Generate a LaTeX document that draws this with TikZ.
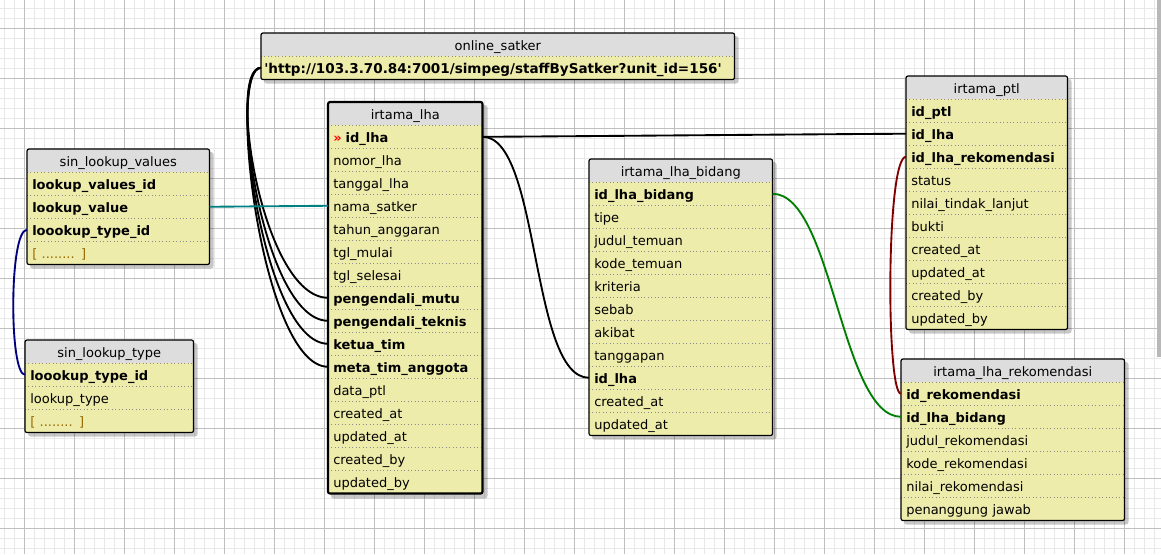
\documentclass[tikz,border=0pt]{standalone}
\usepackage{fontspec}
\setmainfont{DejaVu Sans}
\usepackage{xcolor}
\usepackage{tikz}
\usetikzlibrary{positioning, calc}
\definecolor{erdyellow}{RGB}{238,236,170}
\definecolor{erdhead}{RGB}{221,221,221}
\definecolor{erddots}{RGB}{150,105,0}
\definecolor{linkteal}{RGB}{0,128,128}
\definecolor{linknavy}{RGB}{0,0,128}
\definecolor{linkgreen}{RGB}{0,128,0}
\definecolor{linkred}{RGB}{128,0,0}
\pgfdeclarelayer{grid}
\pgfdeclarelayer{shade}
\pgfsetlayers{grid,shade,main}
\tikzset{
  tabhead/.style={fill=erdhead, anchor=north west, inner sep=0pt, minimum height=17.25pt, text height=9.3pt, text depth=0.6pt, align=center},
  tabrow/.style={fill=erdyellow, anchor=north west, inner xsep=3.75pt, inner ysep=0pt, minimum height=17.25pt, text height=9.3pt, text depth=0.6pt, align=left},
  tabframe/.style={draw=black, line width=0.9pt, rounded corners=1.5pt},
  tabshade/.style={fill=black, opacity=0.22, rounded corners=2pt},
  rowline/.style={draw=black!45, dotted, line width=0.6pt},
  gridminor/.style={draw=black!9, line width=0.6pt},
  gridmajor/.style={draw=black!25, line width=0.75pt},
  link/.style={line width=1.4pt}
}

\begin{document}
\begin{tikzpicture}[x=0.75pt, y=-0.75pt, font=\fontsize{9.75}{11}\selectfont]
        \useasboundingbox (0,0) rectangle (1161,554);

        \begin{pgfonlayer}{grid}
          \fill[white] (0,0) rectangle (1161,554);
          \foreach \gx in {4,14,...,1154} \draw[gridminor] (\gx,0) -- (\gx,554);
          \foreach \gy in {8,18,...,548} \draw[gridminor] (0,\gy) -- (1161,\gy);
          \foreach \gx in {24,74,...,1124} \draw[gridmajor] (\gx,0) -- (\gx,554);
          \foreach \gy in {28,78,...,528} \draw[gridmajor] (0,\gy) -- (1161,\gy);
        \end{pgfonlayer}

        \node[tabhead, text width=136.5pt] (vals) at (27,149) {sin\_lookup\_values};
        \foreach \col [count=\i] in {\textbf{lookup\_values\_id}, \textbf{lookup\_value}, \textbf{loookup\_type\_id}, \textcolor{erddots}{[ ........ ]}}
          {\node[tabrow, text width=129pt] (vals-\i) at (27,{149+23*\i}) {\col};
           \draw[rowline] (vals-\i.north west) -- (vals-\i.north east);}
        \draw[tabframe] (vals.north west) rectangle (vals-4.south east);

        \node[tabhead, text width=126pt] (type) at (25,340) {sin\_lookup\_type};
        \foreach \col [count=\i] in {\textbf{loookup\_type\_id}, lookup\_type, \textcolor{erddots}{[ ........ ]}}
          {\node[tabrow, text width=118.5pt] (type-\i) at (25,{340+23*\i}) {\col};
           \draw[rowline] (type-\i.north west) -- (type-\i.north east);}
        \draw[tabframe] (type.north west) rectangle (type-3.south east);

        \node[tabhead, text width=354.75pt] (sat) at (261,33) {online\_satker};
        \node[tabrow, text width=350.25pt, inner xsep=2.25pt] (sat-1) at (261,56) {\fontsize{10.15}{11}\selectfont\textbf{\textquotesingle http://103.3.70.84:7001/simpeg/staffBySatker?unit\_id=156\textquotesingle}};
        \draw[rowline] (sat-1.north west) -- (sat-1.north east);
        \draw[tabframe] (sat.north west) rectangle (sat-1.south east);

        \node[tabhead, text width=115.5pt] (lha) at (328,102) {irtama\_lha};
        \foreach \col [count=\i] in {{\textcolor{red}{\textbf{»}}\kern3pt\textbf{id\_lha}}, nomor\_lha, tanggal\_lha, nama\_satker, tahun\_anggaran, tgl\_mulai, tgl\_selesai, \textbf{pengendali\_mutu}, \textbf{pengendali\_teknis}, \textbf{ketua\_tim}, \textbf{meta\_tim\_anggota}, data\_ptl, created\_at, updated\_at, created\_by, updated\_by}
          {\node[tabrow, text width=108pt] (lha-\i) at (328,{102+23*\i}) {\col};
           \draw[rowline] (lha-\i.north west) -- (lha-\i.north east);}
        \draw[tabframe, line width=1.6pt] (lha.north west) rectangle (lha-16.south east);

        \node[tabhead, text width=137.25pt] (bid) at (589,159) {irtama\_lha\_bidang};
        \foreach \col [count=\i] in {\textbf{id\_lha\_bidang}, tipe, judul\_temuan, kode\_temuan, kriteria, sebab, akibat, tanggapan, \textbf{id\_lha}, created\_at, updated\_at}
          {\node[tabrow, text width=129.75pt] (bid-\i) at (589,{159+23*\i}) {\col};
           \draw[rowline] (bid-\i.north west) -- (bid-\i.north east);}
        \draw[tabframe] (bid.north west) rectangle (bid-11.south east);

        \node[tabhead, text width=120.75pt] (ptl) at (906,76) {irtama\_ptl};
        \foreach \col [count=\i] in {\textbf{id\_ptl}, \textbf{id\_lha}, \textbf{id\_lha\_rekomendasi}, status, nilai\_tindak\_lanjut, bukti, created\_at, updated\_at, created\_by, updated\_by}
          {\node[tabrow, text width=113.25pt] (ptl-\i) at (906,{76+23*\i}) {\col};
           \draw[rowline] (ptl-\i.north west) -- (ptl-\i.north east);}
        \draw[tabframe] (ptl.north west) rectangle (ptl-10.south east);

        \node[tabhead, text width=167.25pt] (rek) at (901,359) {irtama\_lha\_rekomendasi};
        \foreach \col [count=\i] in {\textbf{id\_rekomendasi}, \textbf{id\_lha\_bidang}, judul\_rekomendasi, kode\_rekomendasi, nilai\_rekomendasi, penanggung jawab}
          {\node[tabrow, text width=159.75pt] (rek-\i) at (901,{359+23*\i}) {\col};
           \draw[rowline] (rek-\i.north west) -- (rek-\i.north east);}
        \draw[tabframe] (rek.north west) rectangle (rek-6.south east);

        \begin{pgfonlayer}{shade}
          \fill[tabshade] ([shift={(3,3)}]vals.north west) rectangle ([shift={(4,4)}]vals-4.south east);
          \fill[tabshade] ([shift={(3,3)}]type.north west) rectangle ([shift={(4,4)}]type-3.south east);
          \fill[tabshade] ([shift={(3,3)}]sat.north west) rectangle ([shift={(4,4)}]sat-1.south east);
          \fill[tabshade] ([shift={(3,3)}]lha.north west) rectangle ([shift={(5,5)}]lha-16.south east);
          \fill[tabshade] ([shift={(3,3)}]bid.north west) rectangle ([shift={(4,4)}]bid-11.south east);
          \fill[tabshade] ([shift={(3,3)}]ptl.north west) rectangle ([shift={(4,4)}]ptl-10.south east);
          \fill[tabshade] ([shift={(3,3)}]rek.north west) rectangle ([shift={(4,4)}]rek-6.south east);
          \fill[black!28] (1157,0) rectangle (1161,357);
        \end{pgfonlayer}

        \foreach \j in {8,9,10,11}
          \draw[link] (sat-1.west) .. controls +(-35,0) and +(-66,0) .. (lha-\j.west);
        \draw[link] (lha-1.east) .. controls +(40,0) and +(-40,0) .. (ptl-2.west);
        \draw[link] (lha-1.east) .. controls +(58,0) and +(-59,0) .. (bid-9.west);
        \draw[link, linkteal] (vals-2.east) -- (lha-4.west);
        \draw[link, linknavy] (vals-3.west) .. controls +(-18,0) and +(-16,0) .. (type-1.west);
        \draw[link, linkgreen] (bid-1.east) .. controls +(60,0) and +(-60,0) .. (rek-2.west);
        \draw[link, linkred] (ptl-3.west) .. controls +(-20,0) and +(-15,0) .. (rek-1.west);
    \end{tikzpicture}
\end{document}
